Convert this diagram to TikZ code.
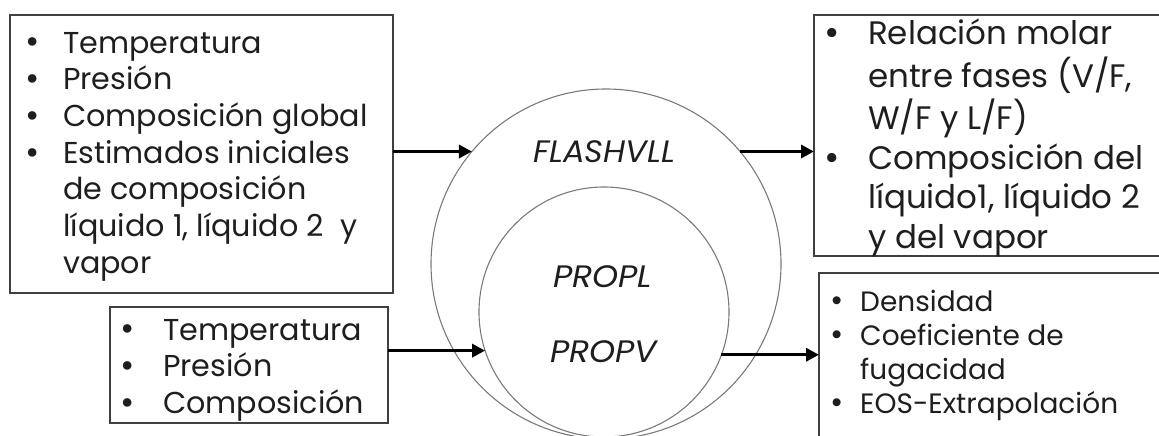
\documentclass[tikz,border=0pt]{standalone}
\usepackage{fontspec}
\setmainfont{Poppins}
\usetikzlibrary{arrows.meta}
\definecolor{txtcol}{HTML}{1E1E1E}
\definecolor{boxcol}{HTML}{404040}
\definecolor{ringcol}{HTML}{7A7A7A}
\newcommand{\bt}{\makebox[20pt][c]{\raisebox{-0.03em}{\scalebox{1.15}{\textbullet}}}}
\tikzset{
  boxframe/.style={draw=boxcol, line width=1.3pt, rectangle, inner sep=0pt, outer sep=0pt, anchor=north west},
  ring/.style={draw=ringcol, line width=1.1pt, circle, inner sep=0pt, outer sep=0pt},
  listtext/.style={anchor=base west, inner sep=0pt, text=txtcol},
  lbl/.style={anchor=base, inner sep=0pt, text=txtcol, font=\itshape\fontsize{31}{33}\selectfont},
  arr/.style={line width=3.4pt, -{Triangle[length=13pt,width=13pt]}},
}
\begin{document}
\begin{tikzpicture}[x=1pt,y=-1pt]
\useasboundingbox (0,0) rectangle (1159,436);
\clip (0,0) rectangle (1159,436);
% frames
\node[boxframe, minimum width=383pt, minimum height=278pt] (box1) at (10,15) {};
\node[boxframe, minimum width=360pt, minimum height=241pt] (box2) at (814,15) {};
\node[boxframe, minimum width=278pt, minimum height=116pt] (box3) at (110,307) {};
\node[boxframe, minimum width=360pt, minimum height=200pt] (box4) at (819,273) {};
% circles
\node[ring, minimum size=350pt] (outer) at (606,264) {};
\node[ring, minimum size=250pt] (inner) at (604,312) {};
% texts
\node[listtext, font=\fontsize{30.2}{36.7}\selectfont] (t1) at (22,53) {%
\begin{tabular}[t]{@{}l@{\hspace{21pt}}l@{}}
\bt & Temperatura\\
\bt & Presión\\
\bt & Composición global\\
\bt & Estimados iniciales\\
    & de composición\\
    & líquido 1, líquido 2~ y\\
    & vapor
\end{tabular}};
\node[listtext, font=\fontsize{32.5}{39.5}\selectfont] (t2) at (822,45) {%
\begin{tabular}[t]{@{}l@{\hspace{26pt}}l@{}}
\bt & Relación molar\\
    & entre fases (V/F,\\
    & W/F y L/F)\\
\bt & Composición del\\
    & líquido1, líquido 2\\
    & y del vapor
\end{tabular}};
\node[listtext, font=\fontsize{30.2}{36.7}\selectfont] (t3) at (117,340) {%
\begin{tabular}[t]{@{}l@{\hspace{26pt}}l@{}}
\bt & Temperatura\\
\bt & Presión\\
\bt & Composición
\end{tabular}};
\node[listtext, font=\fontsize{28}{34}\selectfont] (t4) at (827,311) {%
\begin{tabular}[t]{@{}l@{\hspace{13pt}}l@{}}
\bt & Densidad\\
\bt & Coeficiente de\\
    & fugacidad\\
\bt & EOS-Extrapolación
\end{tabular}};
% circle labels
\node[lbl] (flash) at (604,162) {\resizebox{142pt}{\height}{FLASHVLL}};
\node[lbl] (propl) at (602.5,287) {\resizebox{99pt}{\height}{PROPL}};
\node[lbl] (propv) at (603.5,362) {\resizebox{107pt}{\height}{PROPV}};
% arrows
\draw[arr] (box1.east |- outer.140) -- (outer.140);
\draw[arr] (outer.40) -- (outer.40 -| box2.west);
\draw[arr] (box3.east |- inner.198) -- (inner.198);
\draw[arr] (inner.-20) -- (inner.-20 -| box4.west);
\end{tikzpicture}
\end{document}
